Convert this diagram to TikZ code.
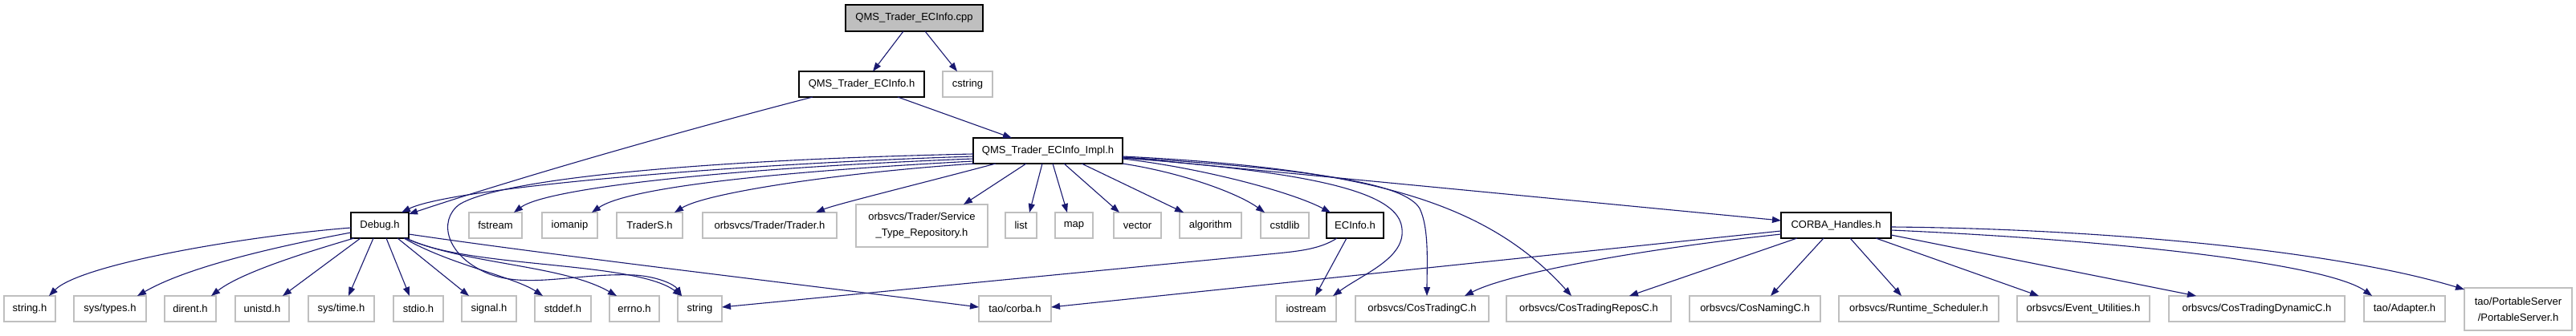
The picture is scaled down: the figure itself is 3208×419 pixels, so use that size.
\documentclass[tikz,border=0pt]{standalone}
\usepackage{fontspec}
\setmainfont{Liberation Sans}
\usetikzlibrary{arrows.meta}
\definecolor{edgeblue}{HTML}{191970}
\definecolor{lgray}{HTML}{BFBFBF}
\tikzset{
  box/.style={draw=black, fill=white, line width=1.2pt, inner sep=0pt, outer sep=0pt,
    minimum height=32pt, font=\fontsize{13}{20}\selectfont, align=center},
  gbox/.style={box, draw=lgray},
  edge/.style={draw=edgeblue, line width=1.1pt, -{Triangle[length=11pt,width=8pt]}},
}
\begin{document}
\begin{tikzpicture}[x=1pt,y=-1pt]
\useasboundingbox (0,0) rectangle (3208,419);
\fill[white] (0,0) rectangle (3208,419);
% row 1-3
\node[box, fill=lgray, minimum width=171pt, minimum height=33pt] (cpp) at (1138.5,22.5) {QMS\_Trader\_ECInfo.cpp};
\node[box, minimum width=156pt] (qmsh) at (1073,105) {QMS\_Trader\_ECInfo.h};
\node[gbox, minimum width=62pt] (cstring) at (1205,105) {cstring};
\node[box, minimum width=186pt] (impl) at (1305,188) {QMS\_Trader\_ECInfo\_Impl.h};
% row 4
\node[box, minimum width=72pt] (debug) at (473,281) {Debug.h};
\node[gbox, minimum width=66pt] (fstream) at (617,281) {fstream};
\node[gbox, minimum width=69pt] (iomanip) at (709.5,281) {iomanip};
\node[gbox, minimum width=82pt] (traders) at (809,281) {TraderS.h};
\node[gbox, minimum width=167pt] (trader) at (958.5,281) {orbsvcs/Trader/Trader.h};
\node[gbox, minimum width=164pt, minimum height=53pt] (str) at (1148,281.5) {orbsvcs/Trader/Service\\\_Type\_Repository.h};
\node[gbox, minimum width=39pt] (list) at (1271.5,281) {list};
\node[gbox, minimum width=47pt] (map) at (1337.5,281) {map};
\node[gbox, minimum width=59pt] (vector) at (1416.5,281) {vector};
\node[gbox, minimum width=77pt] (algorithm) at (1507.5,281) {algorithm};
\node[gbox, minimum width=60pt] (cstdlib) at (1600,281) {cstdlib};
\node[box, minimum width=71pt] (ecinfo) at (1687.5,281) {ECInfo.h};
\node[box, minimum width=137pt] (corba) at (2286.5,281) {CORBA\_Handles.h};
% row 5
\node[gbox, minimum width=64pt] (stringh) at (37,385) {string.h};
\node[gbox, minimum width=90pt] (systypes) at (137,385) {sys/types.h};
\node[gbox, minimum width=64pt] (dirent) at (237,385) {dirent.h};
\node[gbox, minimum width=67pt] (unistd) at (326.5,385) {unistd.h};
\node[gbox, minimum width=82pt] (systime) at (425,385) {sys/time.h};
\node[gbox, minimum width=62pt] (stdio) at (521,385) {stdio.h};
\node[gbox, minimum width=68pt] (signal) at (609,385) {signal.h};
\node[gbox, minimum width=70pt] (stddef) at (701,385) {stddef.h};
\node[gbox, minimum width=62pt] (errno) at (790,385) {errno.h};
\node[gbox, minimum width=55pt] (string) at (871.5,385) {string};
\node[gbox, minimum width=90pt] (taocorba) at (1264,385) {tao/corba.h};
\node[gbox, minimum width=75pt] (iostream) at (1626.5,385) {iostream};
\node[gbox, minimum width=166pt] (costrading) at (1771,385) {orbsvcs/CosTradingC.h};
\node[gbox, minimum width=205pt] (repos) at (1978.5,385) {orbsvcs/CosTradingReposC.h};
\node[gbox, minimum width=163pt] (naming) at (2185.5,385) {orbsvcs/CosNamingC.h};
\node[gbox, minimum width=199pt] (runtime) at (2389.5,385) {orbsvcs/Runtime\_Scheduler.h};
\node[gbox, minimum width=165pt] (event) at (2594.5,385) {orbsvcs/Event\_Utilities.h};
\node[gbox, minimum width=219pt] (dynamic) at (2810.5,385) {orbsvcs/CosTradingDynamicC.h};
\node[gbox, minimum width=101pt] (adapter) at (2994.5,385) {tao/Adapter.h};
\node[gbox, minimum width=134pt, minimum height=53pt] (portable) at (3136,385.5) {tao/PortableServer\\/PortableServer.h};
% edges from cpp
\draw[edge] ([xshift=72pt]cpp.south west) -- ([xshift=92pt]qmsh.north west);
\draw[edge] ([xshift=99pt]cpp.south west) -- ([xshift=18pt]cstring.north west);
% edges from QMS_Trader_ECInfo.h
\draw[edge] ([xshift=17pt]qmsh.south west) .. controls (850,163) and (650,220) .. ([yshift=-2pt]debug.north east);
\draw[edge] ([xshift=123pt]qmsh.south west) -- ([xshift=48pt]impl.north west);
% edges from Impl
\draw[edge] ([yshift=-7pt]impl.west) .. controls (900,205) and (560,235) .. ([xshift=-9pt]debug.north east);
\draw[edge] ([yshift=-4pt]impl.west) .. controls (850,200) and (620,225) .. (572,255) .. controls (545,275) and (555,320) .. (610,342) .. controls (660,360) and (720,340) .. (790,343) .. controls (820,345) and (840,355) .. ([xshift=5pt]string.north west);
\draw[edge] ([yshift=-10pt]impl.west) .. controls (900,210) and (680,235) .. ([xshift=56pt]fstream.north west);
\draw[edge] ([yshift=-13pt]impl.west) .. controls (950,215) and (780,235) .. ([xshift=62pt]iomanip.north west);
\draw[edge] ([xshift=2pt]impl.south west) .. controls (1050,215) and (880,240) .. ([xshift=72pt]traders.north west);
\draw[edge] ([xshift=28pt]impl.south west) .. controls (1150,228) and (1040,255) .. ([xshift=141pt]trader.north west);
\draw[edge] ([xshift=66pt]impl.south west) -- ([xshift=134pt]str.north west);
\draw[edge] ([xshift=86pt]impl.south west) -- ([xshift=30pt]list.north west);
\draw[edge] ([xshift=99pt]impl.south west) -- ([xshift=15pt]map.north west);
\draw[edge] ([xshift=113pt]impl.south west) -- ([xshift=7pt]vector.north west);
\draw[edge] ([xshift=135pt]impl.south west) -- ([xshift=5pt]algorithm.north west);
\draw[edge] (impl.south east) .. controls (1470,215) and (1540,240) .. ([xshift=5pt]cstdlib.north west);
\draw[edge] ([yshift=-10pt]impl.east) .. controls (1500,210) and (1610,240) .. ([xshift=5pt]ecinfo.north west);
\draw[edge] ([yshift=-8pt]impl.east) -- ([yshift=6pt]corba.west);
\draw[edge] ([yshift=-9pt]impl.east) .. controls (1640,215) and (1735,240) .. (1745,280) .. controls (1755,320) and (1700,340) .. ([xshift=71pt]iostream.north west);
\draw[edge] ([yshift=-8pt]impl.east) .. controls (1650,212) and (1750,230) .. (1768,260) .. controls (1780,285) and (1777,330) .. ([xshift=89pt]costrading.north west);
\draw[edge] ([yshift=-7pt]impl.east) .. controls (1700,210) and (1850,250) .. ([xshift=81pt]repos.north west);
% edges from Debug.h
\draw[edge] ([yshift=-3pt]debug.west) .. controls (300,295) and (100,330) .. ([xshift=56pt]stringh.north west);
\draw[edge] ([yshift=-9pt]debug.west) .. controls (330,310) and (230,335) .. ([xshift=79pt]systypes.north west);
\draw[edge] ([xshift=4pt]debug.south west) .. controls (380,315) and (300,340) .. ([xshift=58pt]dirent.north west);
\draw[edge] ([xshift=12pt]debug.south west) -- ([xshift=59pt]unistd.north west);
\draw[edge] ([xshift=28pt]debug.south west) -- ([xshift=50pt]systime.north west);
\draw[edge] ([xshift=44pt]debug.south west) -- ([xshift=20pt]stdio.north west);
\draw[edge] ([xshift=58pt]debug.south west) -- ([xshift=9pt]signal.north west);
\draw[edge] ([xshift=66pt]debug.south west) .. controls (560,330) and (640,345) .. ([xshift=10pt]stddef.north west);
\draw[edge] ([xshift=68pt]debug.south west) .. controls (580,330) and (700,330) .. ([xshift=9pt]errno.north west);
\draw[edge] ([xshift=69pt]debug.south west) .. controls (580,335) and (790,325) .. ([xshift=5pt]string.north west);
\draw[edge] ([yshift=-11pt]debug.east) .. controls (700,320) and (1000,355) .. ([yshift=2pt]taocorba.west);
% edges from ECInfo.h
\draw[edge] ([xshift=13pt]ecinfo.south west) .. controls (1645,310) and (1620,313) .. (1590,316) -- ([yshift=2pt]string.east);
\draw[edge] ([xshift=25pt]ecinfo.south west) -- ([xshift=49pt]iostream.north west);
% edges from CORBA_Handles.h
\draw[edge] ([yshift=-7pt]corba.west) -- ([yshift=2pt]taocorba.east);
\draw[edge] ([yshift=-11pt]corba.west) .. controls (2050,310) and (1880,340) .. ([xshift=136pt]costrading.north west);
\draw[edge] ([xshift=20pt]corba.south west) -- ([xshift=153pt]repos.north west);
\draw[edge] ([xshift=53pt]corba.south west) -- ([xshift=101pt]naming.north west);
\draw[edge] ([xshift=86pt]corba.south west) -- ([xshift=78pt]runtime.north west);
\draw[edge] ([xshift=118pt]corba.south west) -- ([xshift=27pt]event.north west);
\draw[edge] ([yshift=-12pt]corba.east) -- ([xshift=34pt]dynamic.north west);
\draw[edge] ([yshift=-6pt]corba.east) .. controls (2650,300) and (2900,330) .. ([xshift=10pt]adapter.north west);
\draw[edge] ([yshift=-2pt]corba.east) .. controls (2600,285) and (2900,310) .. ([yshift=-2pt]portable.north west);
\end{tikzpicture}
\end{document}
